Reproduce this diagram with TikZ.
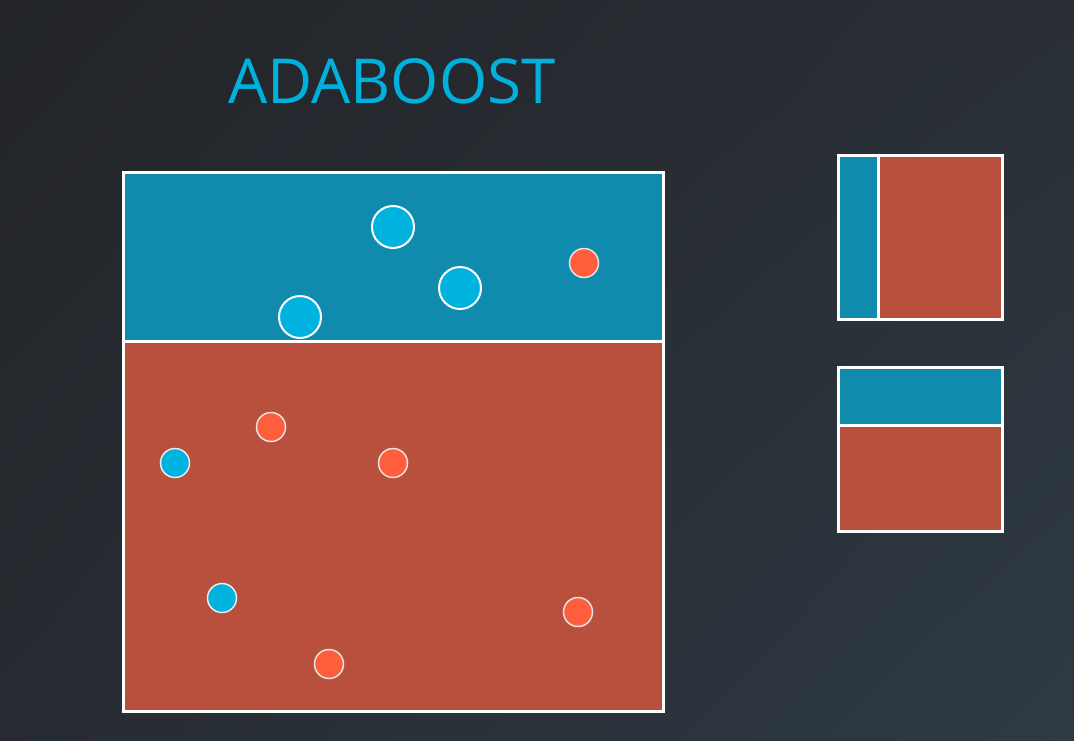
\documentclass[tikz,border=0pt]{standalone}
\usepackage{fontspec}
\setmainfont{Open Sans}
\usetikzlibrary{shadings}
\definecolor{bgA}{HTML}{222428}
\definecolor{bgB}{HTML}{2A2F36}
\definecolor{bgC}{HTML}{272B31}
\definecolor{bgD}{HTML}{2E3A44}
\definecolor{regblue}{HTML}{108BAE}
\definecolor{regred}{HTML}{B9503D}
\definecolor{ptblue}{HTML}{00B3DF}
\definecolor{ptred}{HTML}{FF5E3D}
\definecolor{titleblue}{HTML}{00B0DD}
\tikzset{
  region/.style={draw=white, line width=3pt, inner sep=0pt, outer sep=0pt},
  bigpt/.style={circle, fill=ptblue, draw=white, line width=2pt, minimum size=42pt, inner sep=0pt},
  bluept/.style={circle, fill=ptblue, draw=white!85!gray, line width=1.5pt, minimum size=29pt, inner sep=0pt},
  redpt/.style={circle, fill=ptred, draw=white!80!gray, line width=1.5pt, minimum size=29pt, inner sep=0pt},
}
\begin{document}
\begin{tikzpicture}[x=1pt,y=-1pt]
\useasboundingbox (0,0) rectangle (1074,740);
\shade[upper left=bgA, upper right=bgB, lower left=bgC, lower right=bgD] (0,0) rectangle (1074,740);
% title
\node[text=titleblue, font=\fontsize{62}{62}\selectfont, anchor=base] (title) at (392,103) {ADABOOST};
% main panel
\fill[regblue] (123,172) rectangle (663,341);
\fill[regred] (123,341) rectangle (663,711);
\draw[white, line width=3pt] (123,341) -- (663,341);
\draw[region] (123,172) rectangle (663,711);
% points
\node[bigpt] (b1) at (393,227) {};
\node[bigpt] (b2) at (460,288) {};
\node[bigpt] (b3) at (300,317) {};
\node[redpt] (r1) at (584,263) {};
\node[redpt] (r2) at (271,427) {};
\node[bluept] (p1) at (175,463) {};
\node[redpt] (r3) at (393,463) {};
\node[bluept] (p2) at (222,598) {};
\node[redpt] (r4) at (578,612) {};
\node[redpt] (r5) at (329,664) {};
% small panel 1
\fill[regblue] (838,155) rectangle (878,319);
\fill[regred] (878,155) rectangle (1002,319);
\draw[white, line width=3pt] (878,155) -- (878,319);
\draw[region] (838,155) rectangle (1002,319);
% small panel 2
\fill[regblue] (838,367) rectangle (1002,425);
\fill[regred] (838,425) rectangle (1002,531);
\draw[white, line width=3pt] (838,425) -- (1002,425);
\draw[region] (838,367) rectangle (1002,531);
\end{tikzpicture}
\end{document}
